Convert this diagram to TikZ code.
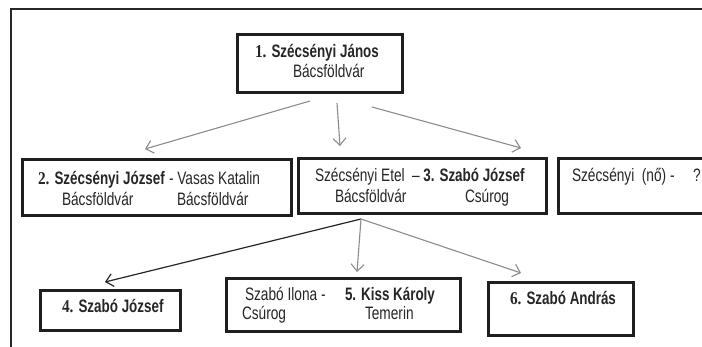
\documentclass[tikz,border=0pt]{standalone}
\usepackage{fontspec}
\setmainfont{Liberation Sans}[FakeStretch=0.76,BoldFeatures={FakeStretch=0.745}]
\newfontfamily\numfont{Liberation Serif}[FakeStretch=0.85]
\usetikzlibrary{arrows.meta}
\tikzset{
  box/.style={draw=black!88, line width=3pt, inner sep=0pt, outer sep=0pt, fill=white},
  txt/.style={inner sep=0pt, outer sep=0pt, anchor=base west, text=black!85,
              font=\fontsize{18}{20}\selectfont},
  conn/.style={draw=black!45, line width=1.1pt, -{Straight Barb[length=7pt,width=13pt]}},
  conndark/.style={draw=black!85, line width=1.2pt, -{Straight Barb[length=7pt,width=13pt]}},
  frame/.style={draw=black!85, line width=1.6pt}
}
\newcommand{\nm}[1]{{\numfont\bfseries #1}}
\begin{document}
\begin{tikzpicture}[x=1pt,y=-1pt]
\useasboundingbox (0,0) rectangle (702,347);
\clip (0,0) rectangle (702,347);
\fill[white] (0,0) rectangle (702,347);
% frame
\draw[frame] (11,350) -- (11,9) -- (705,9);
% boxes
\node[box, minimum width=165pt, minimum height=58pt] (b1) at (320,63.5) {};
\node[box, minimum width=269pt, minimum height=56pt] (b2) at (157,187.5) {};
\node[box, minimum width=248pt, minimum height=55pt] (b3) at (422.5,186) {};
\node[box, minimum width=152pt, minimum height=55pt] (b4) at (634.5,186) {};
\node[box, minimum width=140pt, minimum height=40pt] (b5) at (110.5,310.5) {};
\node[box, minimum width=234pt, minimum height=53pt] (b6) at (343.5,305) {};
\node[box, minimum width=145pt, minimum height=53pt] (b7) at (561,309) {};
% texts
\node[txt] (t1a) at (255,58) {\nm{1.} \bfseries Szécsényi János};
\node[txt] (t1b) at (293,78) {Bácsföldvár};
\node[txt] (t2a) at (38,185) {\nm{2.} \bfseries Szécsényi József};
\node[txt] (t2b) at (169,185) {- Vasas Katalin};
\node[txt] (t2c) at (62,206) {Bácsföldvár};
\node[txt] (t2d) at (177,206) {Bácsföldvár};
\node[txt] (t3a) at (315,182) {Szécsényi Etel};
\node[txt] (t3b) at (412,182) {– \bfseries 3. Szabó József};
\node[txt] (t3c) at (335,203) {Bácsföldvár};
\node[txt] (t3d) at (465,203) {Csúrog};
\node[txt] (t4a) at (572,182) {Szécsényi\ \ (nő) -};
\node[txt] (t4b) at (693,182) {?};
\node[txt] (t5a) at (62,313) {\nm{4.} \bfseries Szabó József};
\node[txt] (t6a) at (245,301) {Szabó Ilona -};
\node[txt] (t6b) at (345,301) {\bfseries 5. Kiss Károly};
\node[txt] (t6c) at (242,320) {Csúrog};
\node[txt] (t6d) at (365,320) {Temerin};
\node[txt] (t7a) at (510,305) {\nm{6.} \bfseries Szabó András};
% connector end points
\coordinate (s1) at (310,101);
\coordinate (s2) at (337,103);
\coordinate (s3) at (372,107);
\coordinate (e1) at (145,149);
\coordinate (e2) at (340,146);
\coordinate (e3) at (521,148);
\coordinate (j) at (361,219);
\coordinate (e4) at (105,282);
\coordinate (e5) at (357,272);
\coordinate (e6) at (521,273);
% connectors
\draw[conn] (s1) -- (e1);
\draw[conn] (s2) -- (e2);
\draw[conn] (s3) -- (e3);
\draw[conndark] (j) -- (e4);
\draw[conn] (j) -- (e5);
\draw[conn] (j) -- (e6);
\end{tikzpicture}
\end{document}
